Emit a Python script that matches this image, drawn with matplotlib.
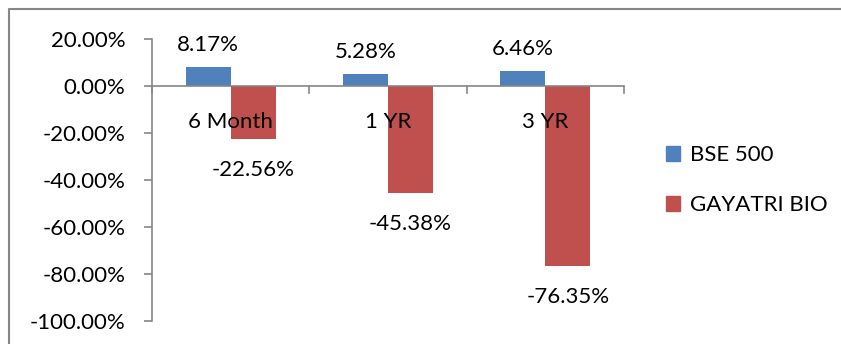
import matplotlib.pyplot as plt
from matplotlib.lines import Line2D
from matplotlib.patches import Patch
import numpy as np

plt.rcParams['font.family'] = ['Lato', 'DejaVu Sans']

periods = ["6 Month", "1 YR", "3 YR"]
bse500 = [8.17, 5.28, 6.46]
gayatri = [-22.56, -45.38, -76.35]
series_names = ["BSE 500", "GAYATRI BIO"]
yticks = [20, 0, -20, -40, -60, -80, -100]

blue = "#4F81BD"
red = "#C0504D"
axis_gray = "#868686"
fs = 16

W, H = 841, 344
fig = plt.figure(figsize=(W / 100, H / 100), dpi=100)

# chart area border (only top and left edges visible in crop)
fig.add_artist(Line2D([9 / W, 9 / W, 1], [0, 1 - 9 / H, 1 - 9 / H], transform=fig.transFigure,
                      color=axis_gray, lw=1.5))

ax = fig.add_axes([152 / W, 1 - 321 / H, 472 / W, (321 - 39.5) / H])
x = np.arange(len(periods))
bw = 0.286
ax.bar(x - bw / 2, bse500, bw, color=blue, label=series_names[0])
ax.bar(x + bw / 2, gayatri, bw, color=red, label=series_names[1])

ax.set_xlim(-0.5, len(periods) - 0.5)
ax.set_ylim(-100, 20)
ax.set_yticks(yticks)
ax.set_yticklabels(["{:.2f}%".format(v) for v in yticks], fontsize=fs)
ax.tick_params(axis='y', length=6, width=1.2, color=axis_gray, pad=13)

for s in ["top", "right", "bottom"]:
    ax.spines[s].set_visible(False)
ax.spines["left"].set_color(axis_gray)
ax.spines["left"].set_linewidth(1.2)
ax.axhline(0, color=axis_gray, lw=1.2, zorder=3)
ax.set_xticks([])
# category boundary ticks on the zero line
for b in np.arange(-0.5, len(periods), 1.0):
    ax.plot([b, b], [0, -2.6], color=axis_gray, lw=1.2, clip_on=False, zorder=3)

for i, p in enumerate(periods):
    ax.text(i, -15, p, ha="center", va="center", fontsize=fs, zorder=4)
    ax.annotate("{:.2f}%".format(bse500[i]), (i - bw / 2, bse500[i]), xytext=(0, 22),
                textcoords="offset pixels", ha="center", va="center", fontsize=fs)
    ax.annotate("{:.2f}%".format(gayatri[i]), (i + bw / 2, gayatri[i]), xytext=(0, -31),
                textcoords="offset pixels", ha="center", va="center", fontsize=fs)

handles = [Patch(color=blue), Patch(color=red)]
fig.legend(handles, series_names, loc="center left", bbox_to_anchor=(646 / W, 1 - 180 / H),
           frameon=False, fontsize=fs, handlelength=0.65, handleheight=0.65,
           handletextpad=0.45, labelspacing=1.35)

fig.savefig("out.png", dpi=100)
